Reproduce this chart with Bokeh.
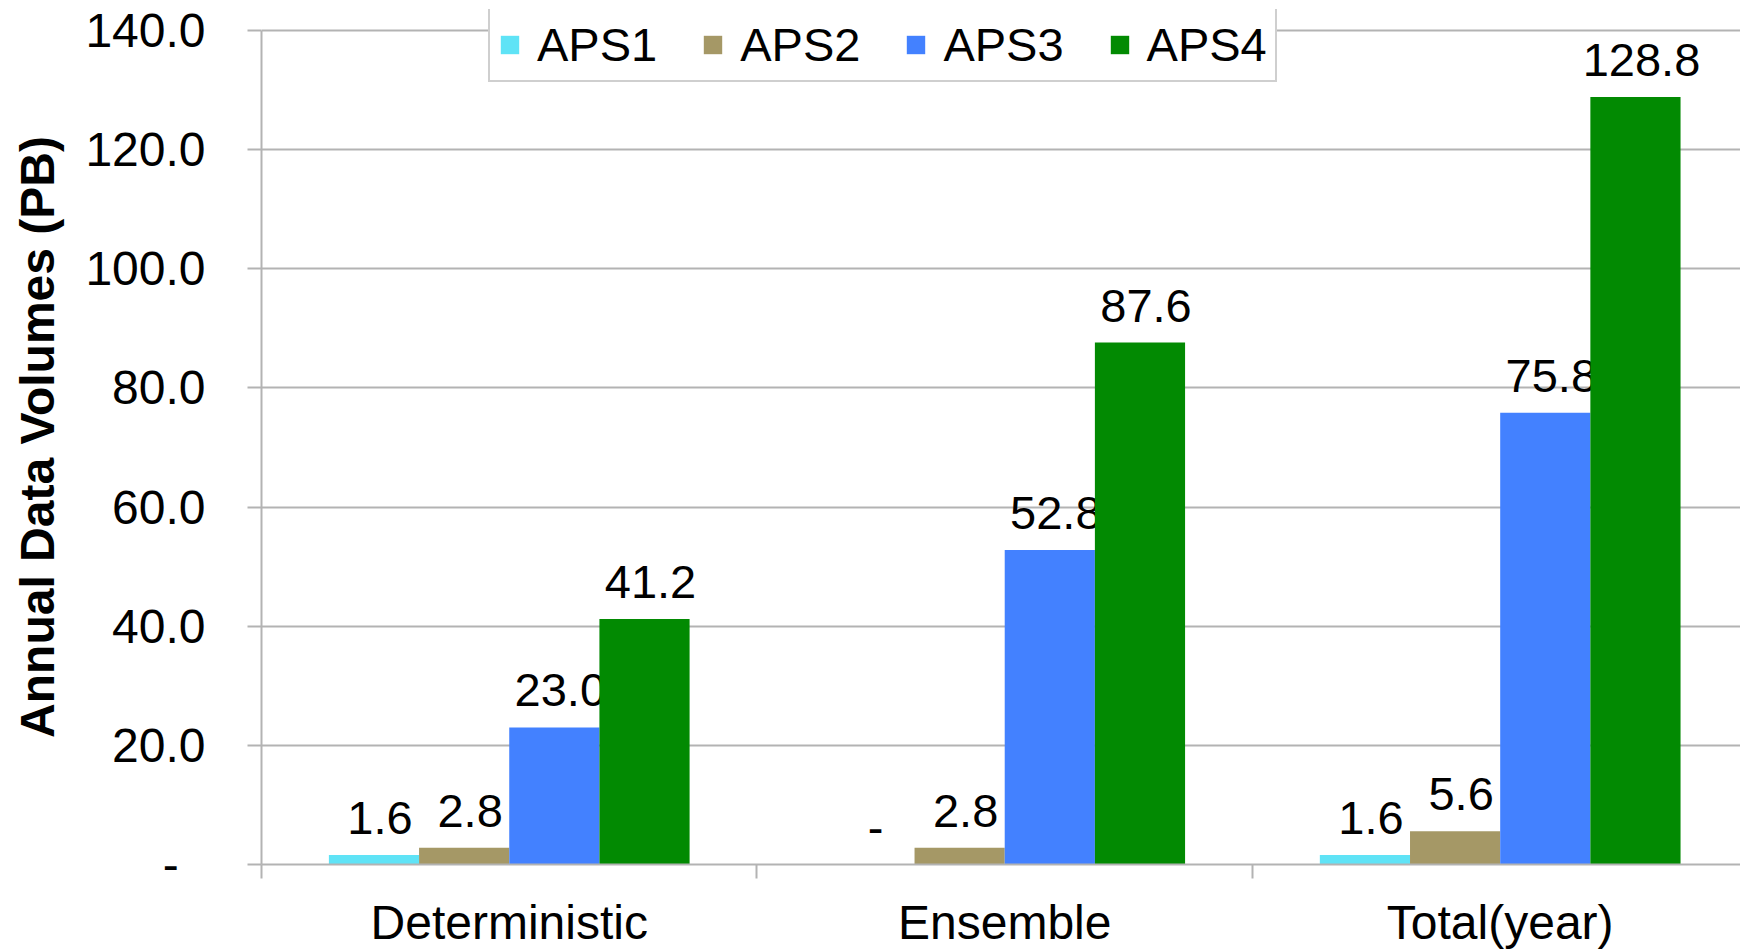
from bokeh.plotting import figure
from bokeh.models import Range1d, FixedTicker, NumeralTickFormatter, Legend, LegendItem, ColumnDataSource
from bokeh.core.properties import value
from bokeh.embed import file_html
from bokeh.resources import INLINE

categories = ["Deterministic", "Ensemble", "Total(year)"]
series = ["APS1", "APS2", "APS3", "APS4"]
aps1 = [1.6, 0.0, 1.6]
aps2 = [2.8, 2.8, 5.6]
aps3 = [23.0, 52.8, 75.8]
aps4 = [41.2, 87.6, 128.8]
colors = ["#5fe3f6", "#a59866", "#4381ff", "#028a02"]
y_ticks = [0, 20, 40, 60, 80, 100, 120, 140]

FONT = "Liberation Sans"
GRID = "#b3b3b3"

p = figure(width=1740, height=951, output_backend="svg", toolbar_location=None,
           x_range=Range1d(0, 2.985), y_range=Range1d(0, 143.5),
           min_border_left=261, min_border_top=9, min_border_right=0, min_border_bottom=87)
p.outline_line_color = None
p.background_fill_color = "white"
p.border_fill_color = "white"

bar_w = 0.182
offsets = [-1.5 * bar_w, -0.5 * bar_w, 0.5 * bar_w, 1.5 * bar_w]
items = []
for vals, name, col, off in zip([aps1, aps2, aps3, aps4], series, colors, offsets):
    xs = [i + 0.5 + off for i in range(len(categories))]
    labels = ["-" if v == 0 else f"{v:.1f}" for v in vals]
    src = ColumnDataSource(dict(x=xs, top=vals, label=labels))
    r = p.vbar(x="x", top="top", bottom=0, width=bar_w, source=src,
               fill_color=col, line_color=None)
    p.text(x="x", y="top", text="label", source=src, x_offset=6, y_offset=-37,
           text_align="center", text_baseline="alphabetic",
           text_font=value(FONT), text_font_size="47px", text_color="black")
    items.append(LegendItem(label=name, renderers=[r]))

# y axis
p.yaxis.ticker = FixedTicker(ticks=y_ticks)
p.yaxis.bounds = (y_ticks[0], y_ticks[-1])
p.yaxis.formatter = NumeralTickFormatter(format="0.0")
p.yaxis.major_label_overrides = {0: "-\u00a0\u00a0"}
p.yaxis.major_label_text_font = FONT
p.yaxis.major_label_text_font_size = "48px"
p.yaxis.major_label_text_color = "black"
p.yaxis.major_label_standoff = 42
p.yaxis.major_tick_out = 14
p.yaxis.major_tick_in = 0
p.yaxis.major_tick_line_color = GRID
p.yaxis.major_tick_line_width = 2
p.yaxis.minor_tick_line_color = None
p.yaxis.axis_line_color = GRID
p.yaxis.axis_line_width = 2
p.yaxis.axis_label = "Annual Data Volumes (PB)"
p.yaxis.axis_label_text_font = FONT
p.yaxis.axis_label_text_font_style = "bold"
p.yaxis.axis_label_text_font_size = "48px"
p.yaxis.axis_label_text_color = "black"
p.yaxis.axis_label_standoff = 18

# x axis
p.xaxis.ticker = FixedTicker(ticks=[i + 0.5 for i in range(len(categories))],
                             minor_ticks=list(range(len(categories) + 1)))
p.xaxis.major_label_overrides = {i + 0.5: c for i, c in enumerate(categories)}
p.xaxis.major_label_text_font = FONT
p.xaxis.major_label_text_font_size = "48px"
p.xaxis.major_label_text_color = "black"
p.xaxis.major_label_text_line_height = 1.0
p.xaxis.major_label_standoff = 17
p.xaxis.major_tick_out = 0
p.xaxis.major_tick_in = 0
p.xaxis.major_tick_line_color = None
p.xaxis.minor_tick_out = 14
p.xaxis.minor_tick_in = 0
p.xaxis.minor_tick_line_color = GRID
p.xaxis.minor_tick_line_width = 2
p.xaxis.axis_line_color = GRID
p.xaxis.axis_line_width = 2

p.xgrid.grid_line_color = None
p.ygrid.ticker = FixedTicker(ticks=y_ticks)
p.ygrid.grid_line_color = GRID
p.ygrid.grid_line_width = 2

legend = Legend(items=items, orientation="horizontal", location=(227, 782),
                label_text_font=FONT, label_text_font_size="47px", label_text_color="black",
                glyph_width=23, glyph_height=23, label_standoff=16, spacing=44,
                padding=8, margin=0, border_line_color="#a0a0a0", border_line_width=2,
                background_fill_color="white", background_fill_alpha=1.0)
p.add_layout(legend, "center")

open("out.html", "w").write(file_html(p, INLINE))
